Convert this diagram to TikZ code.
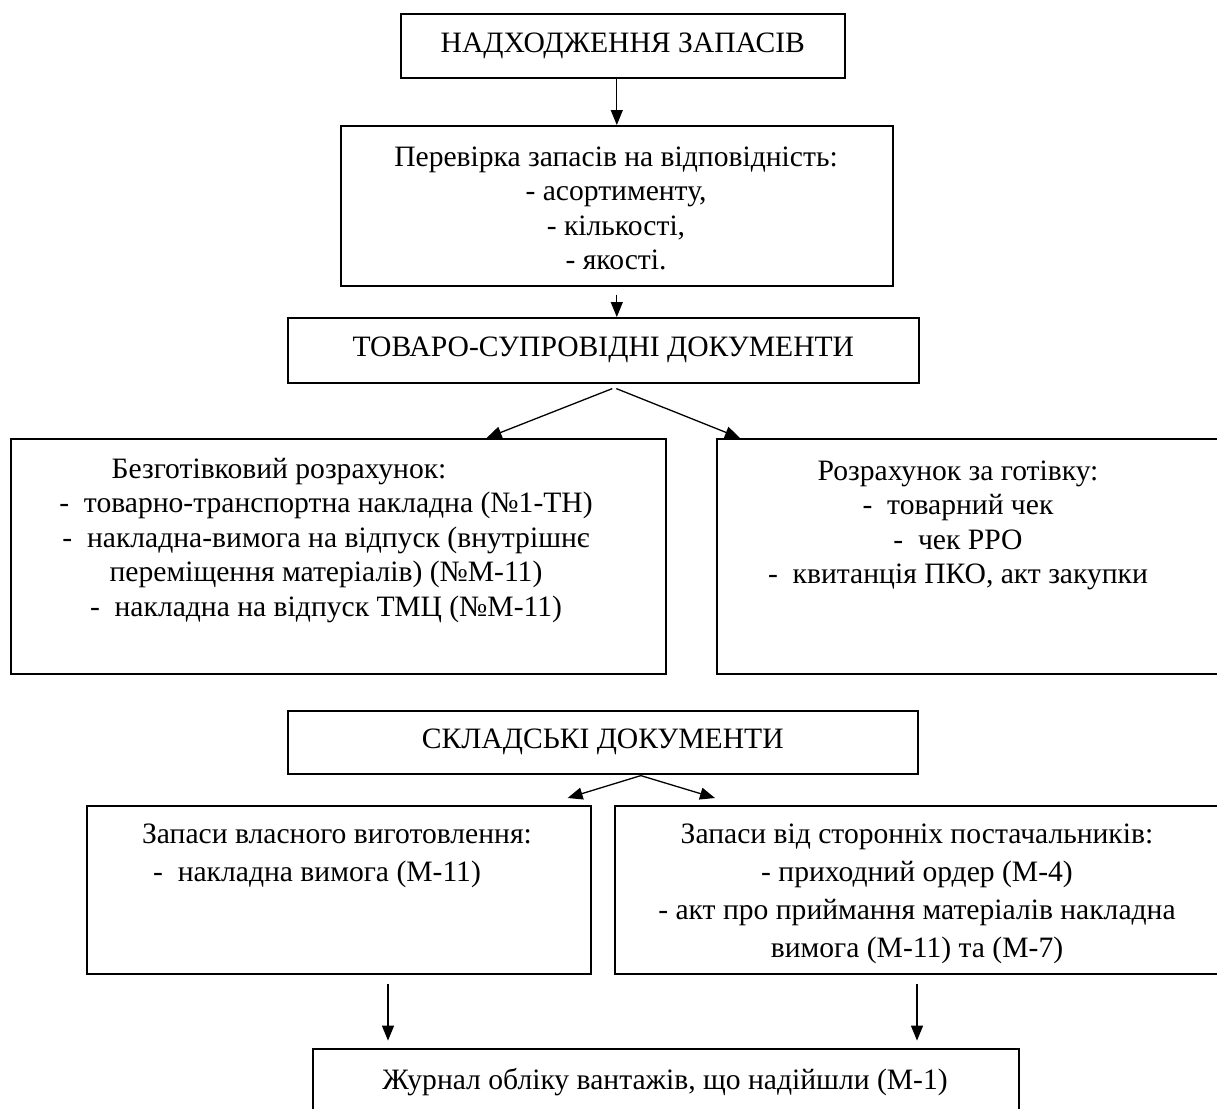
\documentclass[tikz,border=0pt]{standalone}
\usepackage{fontspec}
\setmainfont{Liberation Serif}
\usetikzlibrary{arrows.meta,calc}
\begin{document}
\begin{tikzpicture}[x=1pt,y=-1pt,
  boxnode/.style={draw, line width=1.6pt, inner sep=0pt, anchor=north west,
    font=\fontsize{29.6}{34.5}\selectfont},
  txt/.style={font=\fontsize{29.6}{34.5}\selectfont, align=center, inner sep=0pt},
  txtb/.style={font=\fontsize{29.6}{38}\selectfont, align=center, inner sep=0pt},
  arr/.style={-{Triangle[length=15pt,width=12pt]}, line width=1.3pt}]
\clip (0,0) rectangle (1217,1108);
\fill[white] (0,0) rectangle (1217,1108);

% boxes
\node[boxnode, minimum width=444pt, minimum height=64pt] (b1) at (400,13) {НАДХОДЖЕННЯ ЗАПАСІВ};
\node[boxnode, minimum width=552pt, minimum height=160pt] (b2) at (340,125) {};
\node[boxnode, minimum width=631pt, minimum height=65pt] (b3) at (287,317) {ТОВАРО-СУПРОВІДНІ ДОКУМЕНТИ};
\node[boxnode, minimum width=655pt, minimum height=235pt] (b4L) at (10,438) {};
\node[boxnode, minimum width=524pt, minimum height=235pt] (b4R) at (716,438) {};
\node[boxnode, minimum width=630pt, minimum height=63pt] (b5) at (287,710) {СКЛАДСЬКІ ДОКУМЕНТИ};
\node[boxnode, minimum width=504pt, minimum height=168pt] (b6L) at (86,805) {};
\node[boxnode, minimum width=626pt, minimum height=168pt] (b6R) at (614,805) {};
\node[boxnode, minimum width=706pt, minimum height=90pt] (b7) at (312,1048) {};

% texts
\node[txt, anchor=north] (t2) at (616,142) {\strut Перевірка запасів на відповідність:\\- асортименту,\\- кількості,\\- якості.};
\node[txt, anchor=north] (t4L) at (326,454) {\strut Безготівковий розрахунок:\hspace*{94pt}\\
-\ \ товарно-транспортна накладна (№1-ТН)\\
-\ \ накладна-вимога на відпуск (внутрішнє\\
переміщення матеріалів) (№М-11)\\
-\ \ накладна на відпуск ТМЦ (№М-11)};
\node[txt, anchor=north] (t4R) at (958,456) {\strut Розрахунок за готівку:\\-\ \ товарний чек\\-\ \ чек РРО\\-\ \ квитанція ПКО, акт закупки};
\node[txtb, anchor=north] (t6L) at (337,817) {\strut Запаси власного виготовлення:\\-\ \ накладна вимога (М-11)\hspace*{40pt}};
\node[txtb, anchor=north] (t6R) at (917,817) {\strut Запаси від сторонніх постачальників:\\- приходний ордер (М-4)\\- акт про приймання матеріалів накладна\\вимога (М-11) та (М-7)};
\node[txt, anchor=base] (t7) at (665,1089) {Журнал обліку вантажів, що надійшли (М-1)};

% connectors
\draw[arr] (b2.north |- b1.south) -- (b2.north);
\draw[arr] ($(b2.south)+(0,8)$) -- (b2.south |- b3.north);
\coordinate (s3) at ($(b3.south)+(11,5)$);
\draw[arr] ($(s3)+(-2,0)$) -- ($(b4L.north east)+(-180,0)$);
\draw[arr] ($(s3)+(2,0)$) -- ($(b4R.north west)+(24,0)$);
\coordinate (s5) at ($(b5.south)+(38,1)$);
\draw[arr] (s5) -- ($(b6L.north east)+(-24,-7)$);
\draw[arr] (s5) -- ($(b6R.north west)+(101,-7)$);
\draw[arr] ($(b6L.south west)+(302,9)$) -- ($(b6L.south west)+(302,66)$);
\draw[arr] ($(b6R.south west)+(303,9)$) -- ($(b6R.south west)+(303,66)$);
\end{tikzpicture}
\end{document}
